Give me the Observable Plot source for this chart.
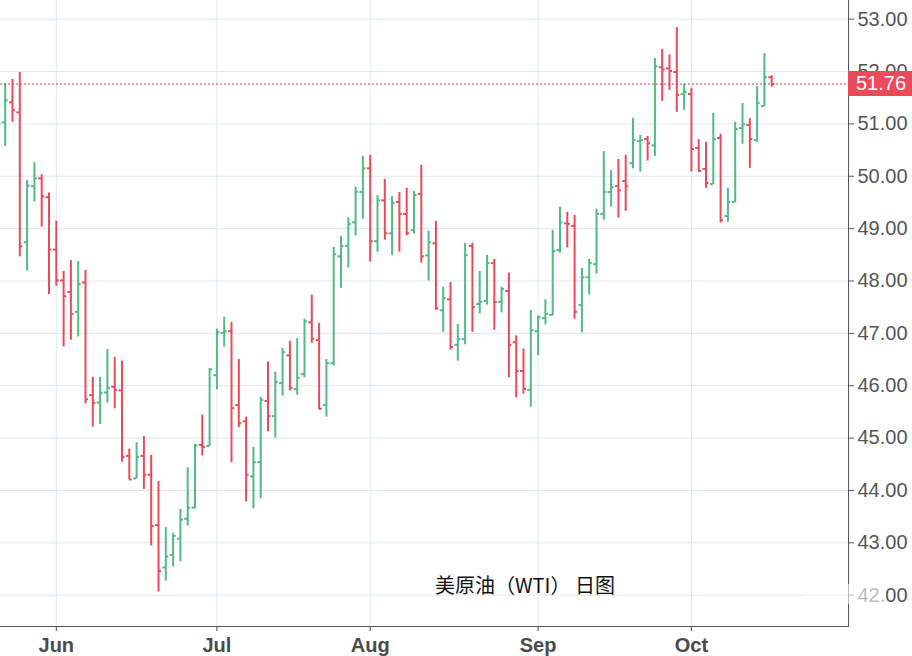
<!DOCTYPE html>
<html>
<head>
<meta charset="utf-8">
<script src="https://cdn.jsdelivr.net/npm/d3@7"></script>
<script src="https://cdn.jsdelivr.net/npm/@observablehq/plot@0.6"></script>
<style>
  html, body { margin: 0; padding: 0; background: #fff; }
  #wrap { position: relative; width: 912px; height: 656px; overflow: hidden; font-family: "Liberation Sans", Arial, sans-serif; }
  #title { position: absolute; left: 435px; top: 570px; font-family: "Noto Sans CJK SC", sans-serif; font-size: 20px; color: #111; white-space: pre; }
  #last { position: absolute; left: 848px; width: 64px; height: 25px; background: #ec4a5b; color: #fff; font-size: 20px; line-height: 25px; text-indent: 8px; }
  #fade { position: absolute; left: 805px; top: 584px; width: 80px; height: 20px; background: rgba(255,255,255,0.6); }
</style>
</head>
<body>
<div id="wrap"></div>
<script>
// Daily WTI bars, one per trading day (index 0 = first fully visible bar, late May 2017)
const firstIndex = -1;
const opens  = [50.85,51.03,51.41,51.22,48.74,49.81,49.96,49.60,48.60,48.01,47.79,47.41,47.97,45.82,45.68,45.87,45.98,45.91,44.66,44.23,44.66,44.30,43.34,42.53,42.77,43.08,43.46,43.67,44.87,44.85,46.20,47.01,47.04,45.63,45.32,44.27,44.54,45.71,45.42,46.05,46.58,45.94,46.22,47.21,46.87,45.63,46.43,48.47,48.67,49.12,49.70,50.15,48.76,49.54,48.91,49.51,49.28,48.97,49.66,48.49,48.72,47.44,47.65,46.78,46.89,48.67,47.56,47.62,48.34,47.60,47.81,46.83,46.28,45.92,47.04,47.29,47.35,48.59,49.10,49.05,47.54,48.07,48.32,49.28,49.70,49.81,49.91,50.25,50.67,50.71,50.59,52.08,52.06,51.99,51.57,51.57,50.54,50.14,49.85,50.73,49.24,49.51,50.92,50.98,50.69,51.34,51.89];
const highs  = [51.20,51.77,51.85,51.98,49.92,50.26,50.03,49.68,49.14,48.18,48.39,48.37,48.20,46.16,46.16,46.69,46.54,46.47,44.79,44.91,45.03,44.67,44.17,43.29,43.18,43.64,44.43,44.88,45.44,46.33,47.08,47.31,47.21,46.50,45.40,44.82,45.78,46.45,46.26,46.71,46.85,46.90,47.27,47.73,47.19,46.50,48.64,48.85,49.21,49.79,50.38,50.40,49.63,49.94,49.61,49.69,49.77,49.71,50.21,48.95,49.14,47.88,47.97,47.17,48.72,48.72,48.18,48.49,48.41,47.88,48.15,46.95,46.70,47.44,47.33,47.64,48.97,49.41,49.31,49.25,48.24,48.41,49.37,50.47,50.11,50.32,50.40,51.10,50.78,50.76,52.25,52.42,52.32,52.84,51.76,51.68,50.70,50.65,51.20,50.80,49.77,51.03,51.39,51.10,51.71,52.34,51.92];
const lows   = [50.60,50.57,51.03,48.46,48.19,49.51,49.03,47.74,47.90,46.74,46.87,46.93,45.65,45.21,45.26,45.67,45.56,44.54,44.21,44.22,44.02,42.94,42.06,42.27,42.54,42.64,43.32,43.65,44.66,44.84,45.92,46.74,44.53,45.20,43.78,43.65,43.84,45.12,45.00,45.80,45.90,45.82,46.15,46.81,45.55,45.40,46.38,47.86,48.25,48.86,49.18,48.36,48.55,48.78,48.49,48.55,48.86,48.90,48.34,48.00,47.44,47.02,46.68,46.47,46.78,47.02,47.37,47.54,47.06,47.39,46.15,45.77,45.84,45.59,46.57,47.16,47.33,48.53,48.63,47.27,47.01,47.73,48.13,49.16,49.41,49.20,49.33,50.14,50.08,50.29,50.38,51.43,51.64,51.22,51.26,50.08,50.09,49.77,49.84,49.11,49.12,49.49,50.61,50.15,50.65,51.33,51.70];
const closes = [51.00,51.45,51.26,48.66,49.82,49.96,49.62,48.60,48.01,47.71,47.37,47.94,45.74,45.67,45.86,45.96,45.92,44.64,44.21,44.64,44.30,43.32,42.46,42.74,43.13,43.44,43.67,44.86,44.83,46.31,47.02,47.04,45.57,45.28,44.30,44.54,45.73,45.42,46.07,46.64,45.96,46.15,47.23,46.90,45.56,46.43,48.51,48.67,49.09,49.70,50.15,48.76,49.54,48.91,49.49,49.28,48.91,49.64,48.47,48.74,47.48,47.67,46.74,46.89,48.49,47.50,47.60,48.34,47.60,47.85,46.78,46.28,45.94,47.06,47.31,47.37,48.57,49.12,49.09,47.41,48.07,48.34,49.28,49.70,49.79,49.73,49.81,50.69,50.69,50.63,52.10,52.04,52.01,51.55,51.61,50.52,50.10,49.87,50.71,49.16,49.51,50.90,50.99,50.71,51.40,51.89,51.76];

// Axis ticks
const monthTickIndex = [7, 29, 50, 73, 94];
const monthTickLabels = ["Jun", "Jul", "Aug", "Sep", "Oct"];
const priceTicks = [42, 43, 44, 45, 46, 47, 48, 49, 50, 51, 52, 53];

const upColor = "#52b987";
const downColor = "#ec4a5b";

const bars = opens.map((o, i) => ({
  t: firstIndex + i, o, h: highs[i], l: lows[i], c: closes[i],
  color: closes[i] >= o ? upColor : downColor
}));
const lastClose = closes[closes.length - 1];
const tickLen = 0.41;

const plot = Plot.plot({
  width: 912,
  height: 656,
  marginLeft: 0,
  marginRight: 64,
  marginTop: 0,
  marginBottom: 30,
  style: { fontFamily: "'Liberation Sans', Arial, sans-serif", background: "#fff", overflow: "visible" },
  x: { type: "linear", domain: [-0.644, 115.52] },
  y: { domain: [41.402, 53.356] },
  marks: [
    Plot.gridY(priceTicks, { stroke: "#dfe8ef", strokeOpacity: 1 }),
    Plot.gridX(monthTickIndex, { stroke: "#dfe8ef", strokeOpacity: 1 }),
    Plot.ruleX(bars, { x: "t", y1: "l", y2: "h", stroke: "color", strokeWidth: 2, clip: true }),
    Plot.ruleY(bars, { y: "o", x1: d => d.t - tickLen, x2: "t", stroke: "color", strokeWidth: 2, clip: true }),
    Plot.ruleY(bars, { y: "c", x1: "t", x2: d => d.t + tickLen, stroke: "color", strokeWidth: 2, clip: true }),
    Plot.ruleY([lastClose], { stroke: "#c2414f", strokeWidth: 1, strokeDasharray: "2,2" }),
    Plot.axisY(priceTicks, { anchor: "right", tickSize: 5, tickPadding: 4, tickFormat: d3.format(".2f"), fontSize: 20, color: "#555", label: null }),
    Plot.axisX(monthTickIndex, { anchor: "bottom", tickSize: 5, tickPadding: 6, tickFormat: d => monthTickLabels[monthTickIndex.indexOf(d)], fontSize: 20, fontWeight: "bold", color: "#4a4a4a", label: null }),
    Plot.frame({ anchor: "right", stroke: "#555" }),
    Plot.frame({ anchor: "bottom", stroke: "#555" })
  ]
});

const wrap = document.getElementById("wrap");
wrap.appendChild(plot);

const yPix = plot.scale("y").apply(lastClose);
const last = document.createElement("div");
last.id = "last";
last.textContent = lastClose.toFixed(2);
last.style.top = (yPix - 12.5) + "px";
wrap.appendChild(last);

const fade = document.createElement("div");
fade.id = "fade";
wrap.appendChild(fade);

const title = document.createElement("div");
title.id = "title";
title.textContent = "美原油（WTI） 日图";
wrap.appendChild(title);
</script>
</body>
</html>
